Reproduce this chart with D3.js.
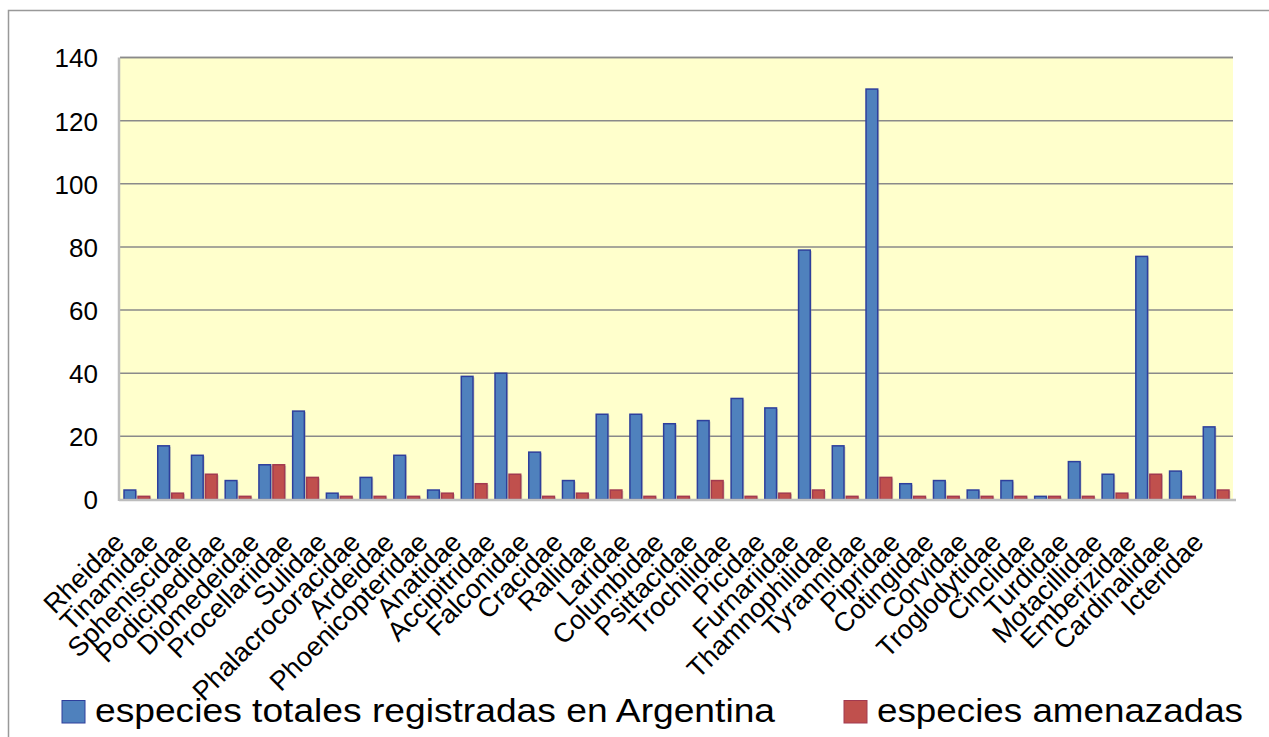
<!DOCTYPE html>
<html>
<head>
<meta charset="utf-8">
<script src="https://cdn.jsdelivr.net/npm/d3@7"></script>
<style>
  html, body { margin: 0; padding: 0; background: #ffffff; }
  svg { display: block; }
  text { font-family: "Liberation Sans", Arial, sans-serif; fill: #000; }
</style>
</head>
<body>
<svg id="chart" width="1269" height="737"></svg>
<script>
const categories = ["Rheidae","Tinamidae","Spheniscidae","Podicipedidae","Diomedeidae","Procellariidae","Sulidae","Phalacrocoracidae","Ardeidae","Phoenicopteridae","Anatidae","Accipitridae","Falconidae","Cracidae","Rallidae","Laridae","Columbidae","Psittacidae","Trochilidae","Picidae","Furnariidae","Thamnophilidae","Tyrannidae","Pipridae","Cotingidae","Corvidae","Troglodytidae","Cinclidae","Turdidae","Motacillidae","Emberizidae","Cardinalidae","Icteridae"];
const totales = [3,17,14,6,11,28,2,7,14,3,39,40,15,6,27,27,24,25,32,29,79,17,130,5,6,3,6,1,12,8,77,9,23];
const amenazadas = [1,2,8,1,11,7,1,1,1,2,5,8,1,2,3,1,1,6,1,2,3,1,7,1,1,1,1,1,1,2,8,1,3];
const seriesNames = ["especies totales registradas en Argentina", "especies amenazadas"];
const yTicks = [0,20,40,60,80,100,120,140];

const svg = d3.select("#chart");
const plot = {left: 120, right: 1233, top: 57.5, bottom: 499.5};

// outer frame
svg.append("rect").attr("x", 8.5).attr("y", 10.5).attr("width", 1300).attr("height", 800)
  .attr("fill", "none").attr("stroke", "#999").attr("stroke-width", 1.5);

const x0 = d3.scaleBand().domain(categories).range([plot.left, plot.right]).paddingInner(0).paddingOuter(0);
const x1 = d3.scaleBand().domain(["total","threat"]).range([0, x0.bandwidth()]).paddingInner(0.164).paddingOuter(0.287);
const y = d3.scaleLinear().domain([0, 140]).range([plot.bottom, plot.top]);

// plot background
svg.append("rect").attr("x", plot.left).attr("y", plot.top)
  .attr("width", plot.right - plot.left).attr("height", plot.bottom - plot.top)
  .attr("fill", "#FFFFCC");

// gridlines
svg.append("g").selectAll("line").data(yTicks.filter(d => d > 0)).join("line")
  .attr("x1", plot.left).attr("x2", plot.right)
  .attr("y1", d => y(d)).attr("y2", d => y(d))
  .attr("stroke", "#8a8a8a").attr("stroke-width", 1.5);

// y axis labels
const yAxis = d3.axisLeft(y).tickValues(yTicks).tickSize(0).tickPadding(22).tickFormat(d3.format("d"));
const gy = svg.append("g").attr("transform", `translate(${plot.left},0)`).call(yAxis);
gy.select(".domain").remove();
gy.selectAll("text").attr("font-size", 26).attr("font-family", "Liberation Sans, Arial, sans-serif").attr("fill", "#000").attr("dy", "0.36em");

// bars
const data = categories.map((c, i) => ({c, total: totales[i], threat: amenazadas[i]}));
const groups = svg.append("g").selectAll("g").data(data).join("g")
  .attr("transform", d => `translate(${x0(d.c)},0)`);

const colors = {total: {fill: "#4F81BD", stroke: "#2E3F9C"}, threat: {fill: "#C0504D", stroke: "#A23A50"}};
["total","threat"].forEach(k => {
  // shadow
  groups.append("rect")
    .attr("x", x1(k) + 1.5).attr("y", d => y(d[k]) + 1)
    .attr("width", x1.bandwidth()).attr("height", d => plot.bottom - y(d[k]) - 1)
    .attr("fill", "#9a9a9a").attr("opacity", 0.45);
  groups.append("rect")
    .attr("x", x1(k)).attr("y", d => y(d[k]))
    .attr("width", x1.bandwidth()).attr("height", d => plot.bottom - y(d[k]))
    .attr("fill", colors[k].fill).attr("stroke", colors[k].stroke).attr("stroke-width", 1.5);
});

// axis lines
svg.append("line").attr("x1", plot.left).attr("x2", plot.right).attr("y1", plot.top).attr("y2", plot.top)
  .attr("stroke", "#8a8a8a").attr("stroke-width", 1.5);
svg.append("line").attr("x1", plot.left - 1).attr("x2", plot.left - 1).attr("y1", plot.top).attr("y2", plot.bottom + 1.5)
  .attr("stroke", "#bdbdbd").attr("stroke-width", 2.5);
svg.append("line").attr("x1", plot.left - 1).attr("x2", plot.right + 3).attr("y1", plot.bottom + 0.5).attr("y2", plot.bottom + 0.5)
  .attr("stroke", "#bdbdbd").attr("stroke-width", 2.5);

// x labels
svg.append("g").selectAll("text").data(categories).join("text")
  .attr("transform", d => `translate(${x0(d) + x0.bandwidth()/2 - 11},544) rotate(-45)`)
  .attr("text-anchor", "end")
  .attr("font-size", 27)
  .text(d => d);

// legend
const legend = [
  {name: seriesNames[0], color: colors.total, sx: 62, tx: 95, tw: 680},
  {name: seriesNames[1], color: colors.threat, sx: 844, tx: 877, tw: 366}
];
const lg = svg.append("g").selectAll("g").data(legend).join("g");
lg.append("rect").attr("x", d => d.sx).attr("y", 700.5).attr("width", 23).attr("height", 22.5)
  .attr("fill", d => d.color.fill).attr("stroke", d => d.color.stroke).attr("stroke-width", 1);
lg.append("text").attr("x", d => d.tx).attr("y", 722).attr("font-size", 33)
  .attr("textLength", d => d.tw).attr("lengthAdjust", "spacingAndGlyphs")
  .text(d => d.name);
</script>
</body>
</html>
